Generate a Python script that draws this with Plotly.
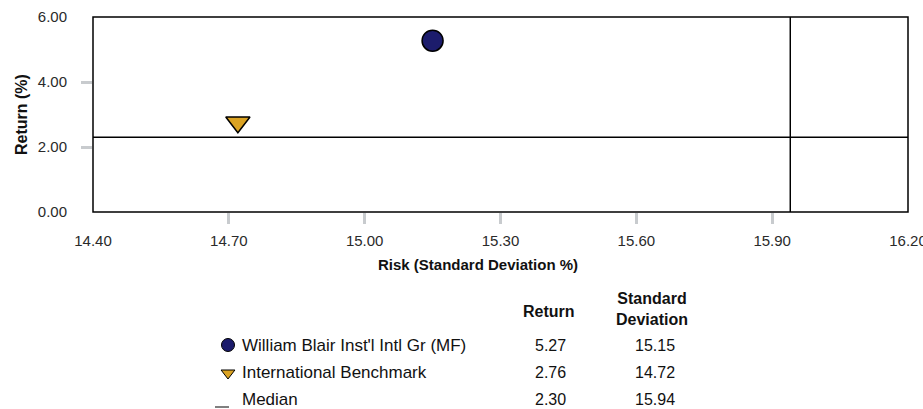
import plotly.graph_objects as go

names = ["William Blair Inst'l Intl Gr (MF)", "International Benchmark", "Median"]
returns = [5.27, 2.76, 2.30]
std_devs = [15.15, 14.72, 15.94]
x_ticks = [14.40, 14.70, 15.00, 15.30, 15.60, 15.90, 16.20]
y_ticks = [0.00, 2.00, 4.00, 6.00]

FONT = "Liberation Sans, Arial, sans-serif"
NAVY = "#1c1c6c"
GOLD = "#dba323"
TXT = "#111111"

W, H = 923, 409
ML, MR, MT, MB = 93, 15, 17, 0


def px(x):
    return (x - ML) / (W - ML - MR)


def py(y):
    return (H - MB - y) / (H - MT - MB)


fig = go.Figure()

# main scatter points
fig.add_trace(go.Scatter(x=[std_devs[0]], y=[returns[0]], mode="markers",
                         marker=dict(symbol="circle", size=21, color=NAVY,
                                     line=dict(color="black", width=1.5)),
                         xaxis="x", yaxis="y", showlegend=False, hoverinfo="skip"))
fig.add_trace(go.Scatter(x=[std_devs[1]], y=[returns[1]], mode="markers",
                         marker=dict(symbol="triangle-down", size=21, color=GOLD,
                                     line=dict(color="black", width=1.5)),
                         xaxis="x", yaxis="y", showlegend=False, hoverinfo="skip"))

# median lines
fig.add_shape(type="line", xref="x", yref="y", x0=x_ticks[0], x1=x_ticks[-1],
              y0=returns[2], y1=returns[2], line=dict(color="black", width=1.5))
fig.add_shape(type="line", xref="x", yref="y", x0=std_devs[2], x1=std_devs[2],
              y0=y_ticks[0], y1=y_ticks[-1], line=dict(color="black", width=1.5))

# frame
fig.add_shape(type="rect", xref="x domain", yref="y domain", x0=0, x1=1, y0=0, y1=1,
              line=dict(color="black", width=1.5))

# table markers (pixel-coordinate helper axes)
fig.add_trace(go.Scatter(x=[228], y=[-345], mode="markers",
                         marker=dict(symbol="circle", size=13, color=NAVY,
                                     line=dict(color="black", width=1)),
                         xaxis="x3", yaxis="y3", showlegend=False, hoverinfo="skip"))
fig.add_trace(go.Scatter(x=[228], y=[-373], mode="markers",
                         marker=dict(symbol="triangle-down", size=12, color=GOLD,
                                     line=dict(color="black", width=1)),
                         xaxis="x3", yaxis="y3", showlegend=False, hoverinfo="skip"))
fig.add_shape(type="line", xref="x3", yref="y3", x0=215, x1=229, y0=-407, y1=-407,
              line=dict(color="black", width=1))

rows_y = [345, 372, 399]
for i, nm in enumerate(names):
    fig.add_annotation(x=px(240), y=py(rows_y[i]), xref="paper", yref="paper", text=nm,
                       showarrow=False, xanchor="left", yanchor="middle",
                       font=dict(family=FONT, size=17, color=TXT))
    fig.add_annotation(x=px(550), y=py(rows_y[i]), xref="paper", yref="paper",
                       text=f"{returns[i]:.2f}", showarrow=False, xanchor="center",
                       yanchor="middle", font=dict(family=FONT, size=16, color=TXT))
    fig.add_annotation(x=px(655), y=py(rows_y[i]), xref="paper", yref="paper",
                       text=f"{std_devs[i]:.2f}", showarrow=False, xanchor="center",
                       yanchor="middle", font=dict(family=FONT, size=16, color=TXT))

fig.add_annotation(x=px(549), y=py(311), xref="paper", yref="paper", text="<b>Return</b>",
                   showarrow=False, xanchor="center", yanchor="middle",
                   font=dict(family=FONT, size=16, color=TXT))
fig.add_annotation(x=px(652), y=py(309), xref="paper", yref="paper",
                   text="<b>Standard<br>Deviation</b>",
                   showarrow=False, xanchor="center", yanchor="middle",
                   font=dict(family=FONT, size=16, color=TXT))

fig.add_annotation(x=px(478), y=py(264), xref="paper", yref="paper",
                   text="<b>Risk (Standard Deviation %)</b>",
                   showarrow=False, xanchor="center", yanchor="middle",
                   font=dict(family=FONT, size=15, color=TXT))
fig.add_annotation(x=px(21), y=py(115), xref="paper", yref="paper",
                   text="<b>Return (%)</b>", textangle=-90,
                   showarrow=False, xanchor="center", yanchor="middle",
                   font=dict(family=FONT, size=16, color=TXT))

main_dom = [py(212), 1]

fig.update_layout(
    width=W, height=H,
    margin=dict(l=ML, r=MR, t=MT, b=MB),
    paper_bgcolor="white", plot_bgcolor="white",
    font=dict(family=FONT, size=15, color="#333"),
    xaxis=dict(range=[x_ticks[0], x_ticks[-1]], tickvals=x_ticks,
               ticktext=[f"{v:.2f}" for v in x_ticks], showgrid=False, zeroline=False,
               showline=False, ticks="outside", ticklen=15, tickcolor="rgba(0,0,0,0)",
               tickfont=dict(size=15, color="#2a2a2a"), ticklabeloverflow="allow",
               anchor="y", domain=[0, 1], fixedrange=True, automargin=False),
    yaxis=dict(range=[y_ticks[0], y_ticks[-1]], tickvals=y_ticks,
               ticktext=[f"{v:.2f}" for v in y_ticks], showgrid=False, zeroline=False,
               showline=False, ticks="outside", ticklen=22, tickcolor="rgba(0,0,0,0)",
               tickfont=dict(size=15, color="#2a2a2a"), ticklabeloverflow="allow",
               domain=main_dom, anchor="x", fixedrange=True, automargin=False),
    xaxis2=dict(range=[x_ticks[0], x_ticks[-1]], tickvals=x_ticks[1:-1], showticklabels=False,
                ticks="outside", ticklen=11, tickwidth=3, tickcolor="#c8cbce",
                showgrid=False, zeroline=False, showline=False, overlaying="x",
                anchor="y", fixedrange=True, automargin=False),
    yaxis2=dict(range=[y_ticks[0], y_ticks[-1]], tickvals=y_ticks[1:-1], showticklabels=False,
                ticks="outside", ticklen=11, tickwidth=3, tickcolor="#c8cbce",
                showgrid=False, zeroline=False, showline=False, overlaying="y",
                anchor="x", fixedrange=True, automargin=False),
    xaxis3=dict(range=[ML, W - MR], domain=[0, 1], anchor="y3", visible=False,
                fixedrange=True),
    yaxis3=dict(range=[-H, -H + 0.45 * (H - MT - MB)], domain=[0, 0.45], anchor="x3",
                visible=False, fixedrange=True),
)

# dummy trace to activate the tick overlay axes
fig.add_trace(go.Scatter(x=[None], y=[None], xaxis="x2", yaxis="y2", showlegend=False))

fig.write_html("out.html", config={"displayModeBar": False},
               post_script="document.body.style.margin='0';document.body.style.overflow='hidden';")
